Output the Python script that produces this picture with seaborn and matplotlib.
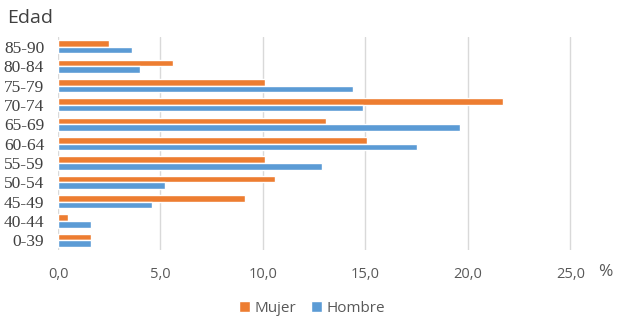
import pandas as pd
import numpy as np
import matplotlib.pyplot as plt
import seaborn as sns
from matplotlib.patches import Patch

# datos
edades = ['85-90', '80-84', '75-79', '70-74', '65-69', '60-64',
          '55-59', '50-54', '45-49', '40-44', '0-39']
mujer = [2.5, 5.6, 10.1, 21.7, 13.1, 15.1, 10.1, 10.6, 9.1, 0.5, 1.6]
hombre = [3.6, 4.0, 14.4, 14.9, 19.6, 17.5, 12.9, 5.2, 4.6, 1.6, 1.6]
sexos = ['Mujer', 'Hombre']
colores = ['#ED7D31', '#5B9BD5']
xticks = [0, 5, 10, 15, 20, 25]

df = pd.DataFrame({
    'Edad': edades * 2,
    'Porcentaje': mujer + hombre,
    'Sexo': ['Mujer'] * len(edades) + ['Hombre'] * len(edades),
})

sns.set_style('white')
plt.rcParams['font.sans-serif'] = ['Open Sans', 'DejaVu Sans']

fig = plt.figure(figsize=(6.24, 3.23), dpi=100)
ax = fig.add_axes([0.093, 0.226, 0.89, 0.659])

sns.barplot(data=df, y='Edad', x='Porcentaje', hue='Sexo', order=edades,
            hue_order=sexos, palette=colores, orient='h', width=0.68,
            saturation=1, ax=ax, legend=False)

ax.set_xlim(0, 27.1)
ax.set_ylim(10.5, -0.5)
ax.grid(axis='x', color='#D9D9D9', linewidth=1)
ax.set_axisbelow(True)
for s in ax.spines.values():
    s.set_visible(False)
ax.set_xticks(xticks, [f'{v:.1f}'.replace('.', ',') for v in xticks])
ax.tick_params(axis='both', length=0)
ax.tick_params(axis='x', pad=12, labelsize=10.5, labelcolor='#595959',
               labelfontfamily='sans-serif')
ax.tick_params(axis='y', pad=10, labelsize=12.5, labelcolor='#404040',
               labelfontfamily=['Liberation Serif', 'DejaVu Serif'])
ax.set_xlabel('')
ax.set_ylabel('')

fig.text(0.012, 0.945, 'Edad', fontsize=14, color='#404040',
         family='sans-serif', va='center', ha='left')
fig.text(0.97, 0.158, '%', fontsize=12.5, color='#595959',
         family='sans-serif', va='center', ha='center')

handles = [Patch(facecolor=c) for c in colores]
fig.legend(handles, sexos, loc='center', bbox_to_anchor=(0.5, 0.045), ncol=2,
           frameon=False, handlelength=0.7, handleheight=0.7, handletextpad=0.3,
           columnspacing=1.0, prop={'family': 'sans-serif', 'size': 11},
           labelcolor='#595959')

plt.savefig('out.png', dpi=100)
plt.close()
